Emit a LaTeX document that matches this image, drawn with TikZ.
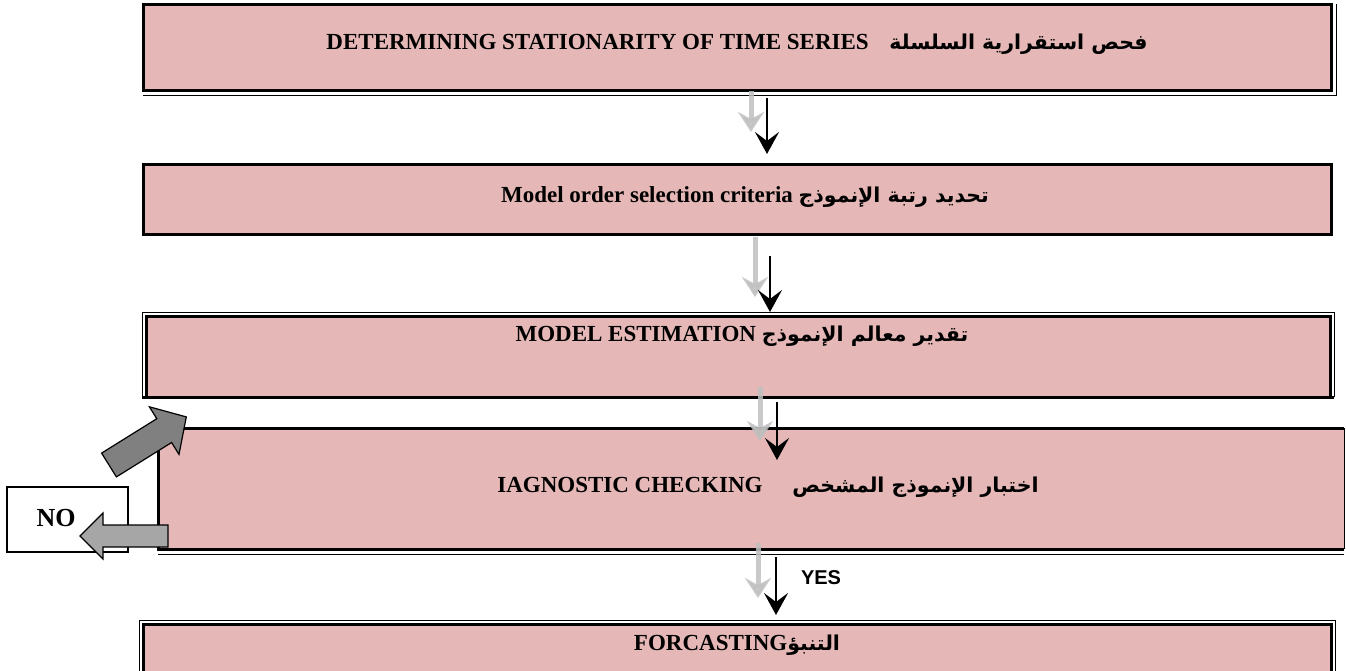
\documentclass[tikz,border=0pt]{standalone}
\usepackage{fontspec}
\setmainfont{Liberation Serif}
\newfontfamily\arabicfont[Script=Arabic]{DejaVu Sans}
\newfontfamily\yesfont{Liberation Sans}
\TeXXeTstate=1
\usetikzlibrary{arrows.meta,calc}

\definecolor{boxpink}{HTML}{E5B8B7}
\definecolor{arrowlight}{HTML}{A6A6A6}
\definecolor{arrowdark}{HTML}{808080}
\definecolor{flowgray}{HTML}{BFBFBF}

\newcommand{\ar}[1]{{\arabicfont\fontsize{20.5}{24}\selectfont\beginR #1\endR}}

\begin{document}
\begin{tikzpicture}[x=1pt,y=-1pt,
  stepbox/.style={rectangle, fill=boxpink, draw=none, inner sep=0pt, outer sep=0pt},
  heavy/.style={line width=3pt},
  light/.style={line width=1pt},
  flowmain/.style={line width=2.8pt, -{Stealth[length=22pt,width=24pt,inset=9pt]}},
  flowghost/.style={draw=flowgray, line width=5pt, opacity=0.85,
    -{Stealth[length=20pt,width=26pt,inset=7pt]}},
  steplabel/.style={font=\fontsize{23}{27}\selectfont\bfseries, inner sep=0pt},
  blockarrow/.style={draw=black, line width=1.2pt, line join=miter}
]
\useasboundingbox (0,0) rectangle (1346,670);

% ---- process boxes ----
\node[stepbox, minimum width=1188pt, minimum height=86pt]  (s1) at (737,47) {};
\node[stepbox, minimum width=1188pt, minimum height=70pt]  (s2) at (737,199) {};
\node[stepbox, minimum width=1184pt, minimum height=81pt]  (s3) at (738,356.5) {};
\node[stepbox, minimum width=1186pt, minimum height=121pt] (s4) at (751,488.5) {};
\node[stepbox, minimum width=1188pt, minimum height=52pt]  (s5) at (737,650) {};

% box 1: heavy frame with a thin shadow line right and below
\draw[heavy] (s1.south west) rectangle (s1.north east);
\draw[light] ($(s1.south west)+(0,5)$) -- ($(s1.south east)+(5,5)$) -- ($(s1.north east)+(5,0)$);

% box 2: heavy frame
\draw[heavy] (s2.south west) rectangle (s2.north east);

% box 3: thin outer line round a heavy frame
\draw[light] ($(s3.south west)+(-4,0)$) -- ($(s3.north west)+(-4,-4)$)
  -- ($(s3.north east)+(4,-4)$) -- ($(s3.south east)+(4,0)$);
\draw[heavy] (s3.south west) rectangle (s3.north east);
\draw[heavy] ($(s3.south west)+(-4,0)$) -- ($(s3.south east)+(4,0)$);

% box 4: open on the right, double line below
\draw[heavy] (s4.north east) -- (s4.north west) -- (s4.south west) -- (s4.south east);
\draw[light] ($(s4.south west)+(0,5)$) -- ($(s4.south east)+(0,5)$);
\draw[line width=0.6pt] (s4.north east) -- (s4.south east);

% box 5: thin outer line round a heavy frame
\draw[light] ($(s5.south west)+(-4,0)$) -- ($(s5.north west)+(-4,-4)$)
  -- ($(s5.north east)+(4,-4)$) -- ($(s5.south east)+(4,0)$);
\draw[heavy] (s5.south west) rectangle (s5.north east);

% ---- labels ----
\node[steplabel] (t1) at (737,44) {DETERMINING STATIONARITY OF TIME SERIES\hspace{0.9em}\ar{فحص استقرارية السلسلة}};
\node[steplabel] (t2) at (745,197) {Model order selection criteria \ar{تحديد رتبة الإنموذج}};
\node[steplabel] (t3) at (742,336) {MODEL ESTIMATION \ar{تقدير معالم الإنموذج}};
\node[steplabel] (t4) at (768,487) {IAGNOSTIC CHECKING\hspace{1.3em}\ar{اختبار الإنموذج المشخص}};
\node[steplabel] (t5) at (737,645) {FORCASTING\ar{التنبؤ}};

% ---- flow arrows between the boxes ----
\draw[flowghost] ($(s1.south)+(14,1)$) -- ($(s2.north)+(14,-32)$);
\draw[flowmain]  ($(s1.south)+(30,8)$) -- ($(s2.north)+(30,-10)$);

\draw[flowghost] ($(s2.south)+(18,3)$) -- ($(s3.north)+(17,-19)$);
\draw[flowmain]  ($(s2.south)+(33,22)$) -- ($(s3.north)+(32,-4)$);

\draw[flowghost] ($(s3.south)+(22,-10)$) -- ($(s4.north)+(9,13)$);
\draw[flowmain]  ($(s3.south)+(39,5)$) -- ($(s4.north)+(26,32)$);

\draw[flowghost] ($(s4.south)+(7,-6)$) -- ($(s5.north)+(21,-26)$);
\draw[flowmain]  ($(s4.south)+(25,8)$) -- ($(s5.north)+(39,-9)$);

\node[font=\yesfont\fontsize{20}{24}\selectfont\bfseries, inner sep=0pt] (yes) at (821,578) {YES};

% ---- rejection branch ----
\node[draw, line width=1.2pt, fill=white, minimum width=121pt, minimum height=65pt, inner sep=0pt] (no) at (67.5,519.5) {};
\node[font=\fontsize{26}{30}\selectfont\bfseries, inner sep=0pt] (notext) at (56,518) {NO};

% back to the estimation step
\draw[blockarrow, fill=arrowdark] (101.6,453.1) -- (156.8,418.7) -- (149.4,406.8)
  -- (186.3,416.9) -- (179.0,454.4) -- (171.6,442.5) -- (116.4,476.9) -- cycle;
% from the checking step to NO
\draw[blockarrow, fill=arrowlight] (168,525) -- (103,525) -- (103,513) -- (80,536)
  -- (103,559) -- (103,547) -- (168,547) -- cycle;
\end{tikzpicture}
\end{document}
